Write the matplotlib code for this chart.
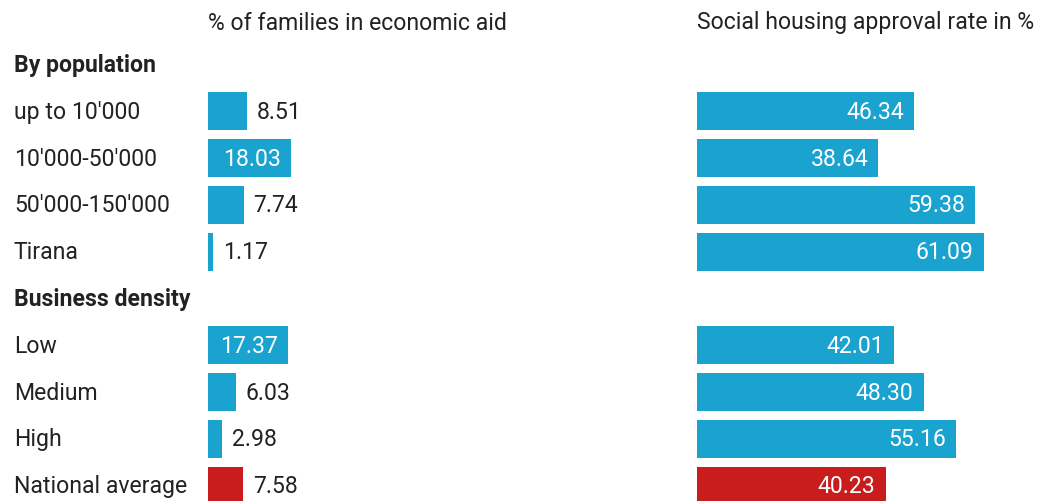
import matplotlib
matplotlib.use('Agg')
import matplotlib.pyplot as plt

plt.rcParams['font.family'] = ['Roboto', 'DejaVu Sans']

# Rows from top to bottom; None marks a section heading
row_labels = ['By population', "up to 10'000", "10'000-50'000", "50'000-150'000", 'Tirana',
              'Business density', 'Low', 'Medium', 'High', 'National average']
is_heading = [True, False, False, False, False, True, False, False, False, False]
econ_aid = [None, 8.51, 18.03, 7.74, 1.17, None, 17.37, 6.03, 2.98, 7.58]
housing_rate = [None, 46.34, 38.64, 59.38, 61.09, None, 42.01, 48.30, 55.16, 40.23]
column_titles = ['% of families in economic aid', 'Social housing approval rate in %']

BLUE = '#1ba3cf'
RED = '#c91c1c'
TEXT = '#222222'
FS = 16.6

W, H = 1040, 502
fig = plt.figure(figsize=(W / 100, H / 100), dpi=100)

row_step = 46.8
first_row_y = 65.5
y_top = -first_row_y / row_step
y_bottom = (H - first_row_y) / row_step


def add_column(x0, x1, px_per_unit, values, title):
    ax = fig.add_axes([x0 / W, 0, (x1 - x0) / W, 1])
    ax.set_xlim(0, (x1 - x0) / px_per_unit)
    ax.set_ylim(y_bottom, y_top)
    ax.axis('off')
    for i, v in enumerate(values):
        if v is None:
            continue
        color = RED if row_labels[i] == 'National average' else BLUE
        ax.barh(i, v, height=38 / row_step, color=color, left=0)
        inside = v * px_per_unit > 60
        if inside:
            ax.annotate(f'{v:.2f}', (v, i), xytext=(-7.2, 0), textcoords='offset points',
                        ha='right', va='center', color='white', fontsize=FS)
        else:
            ax.annotate(f'{v:.2f}', (v, i), xytext=(7.2, 0), textcoords='offset points',
                        ha='left', va='center', color=TEXT, fontsize=FS)
    ax.text(0, y_top + 23 / row_step, title, ha='left', va='center', color=TEXT, fontsize=FS)
    return ax


add_column(208, 620, 4.6, econ_aid, column_titles[0])
add_column(697, 1040, 4.69, housing_rate, column_titles[1])

# Row labels on the left
for i, (label, heading) in enumerate(zip(row_labels, is_heading)):
    y_px = first_row_y + i * row_step
    fig.text(14 / W, 1 - y_px / H, label, ha='left', va='center', color=TEXT,
             fontsize=FS, fontweight='bold' if heading else 'normal')

fig.savefig('out.png', dpi=100, facecolor='white')
